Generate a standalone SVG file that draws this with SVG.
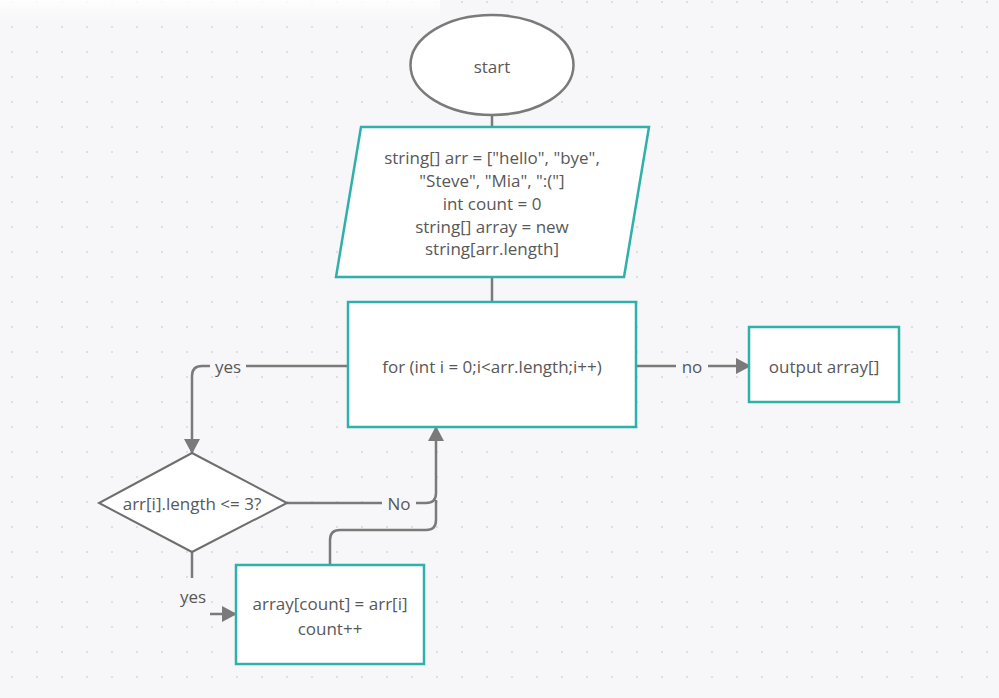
<svg xmlns="http://www.w3.org/2000/svg" width="999" height="698" viewBox="0 0 999 698">
<defs>
<pattern id="dots" x="0" y="0" width="25" height="25" patternUnits="userSpaceOnUse">
<circle cx="12" cy="2" r="1.1" fill="#d9d9de"/>
</pattern>
<linearGradient id="topfade" x1="0" y1="0" x2="0" y2="1">
<stop offset="0" stop-color="#ffffff" stop-opacity="0.9"/>
<stop offset="1" stop-color="#ffffff" stop-opacity="0"/>
</linearGradient>
<marker id="arr" viewBox="0 0 15 16" refX="14" refY="8" markerWidth="15" markerHeight="16" markerUnits="userSpaceOnUse" orient="auto">
<path d="M0,0 L15,8 L0,16 Z" fill="#7a7a7a"/>
</marker>
<style>
.node{fill:#ffffff;stroke:#2fb0ab;stroke-width:2.5}
.term{fill:#ffffff;stroke:#7a7a7a;stroke-width:2.5}
.dia{fill:#ffffff;stroke:#6e6e6e;stroke-width:2}
.conn{fill:none;stroke:#7a7a7a;stroke-width:2.5}
text{font-family:"Open Sans","Noto Sans","DejaVu Sans",sans-serif;font-size:17px;fill:#585858;text-anchor:middle;dominant-baseline:central}
</style>
</defs>
<rect width="999" height="698" fill="#f7f7f9"/>
<rect width="999" height="690" fill="url(#dots)"/>
<rect x="0" y="0" width="440" height="22" fill="url(#topfade)"/>

<g id="connectors">
<line class="conn" x1="492" y1="115" x2="492" y2="127"/>
<line class="conn" x1="492" y1="277" x2="492" y2="302"/>
<path class="conn" d="M636,366 L750,366" marker-end="url(#arr)"/>
<path class="conn" d="M348,366 L202,366 Q192,366 192,376 L192,453" marker-end="url(#arr)"/>
<path class="conn" d="M287,503 L426,503 Q436,503 436,493 L436,427" marker-end="url(#arr)"/>
<path class="conn" d="M330,565 L330,540 Q330,530 340,530 L426,530 Q436,530 436,520 L436,500"/>
<line class="conn" x1="192" y1="552" x2="192" y2="578"/>
<path class="conn" d="M210,614 L236,614" marker-end="url(#arr)"/>
<rect x="210" y="356" width="36" height="20" fill="#f7f7f9"/>
<text x="228" y="366">yes</text>
<rect x="676" y="356" width="32" height="20" fill="#f7f7f9"/>
<text x="692" y="366">no</text>
<rect x="382" y="493" width="34" height="20" fill="#f7f7f9"/>
<text x="399" y="503">No</text>
<text x="193" y="596">yes</text>
</g>

<g id="start">
<ellipse class="term" cx="492" cy="65" rx="81.5" ry="50"/>
<text x="492" y="66">start</text>
</g>

<g id="init">
<polygon class="node" points="361,127 649,127 624,277 336,277"/>
<text x="492" y="157">string[] arr = ["hello", "bye",</text>
<text x="492" y="180">"Steve", "Mia", ":("]</text>
<text x="492" y="203">int count = 0</text>
<text x="492" y="226">string[] array = new</text>
<text x="492" y="248">string[arr.length]</text>
</g>

<g id="loop">
<rect class="node" x="348" y="302" width="288" height="125"/>
<text x="492" y="366">for (int i = 0;i&lt;arr.length;i++)</text>
</g>

<g id="output">
<rect class="node" x="749" y="327" width="150" height="75"/>
<text x="824" y="366">output array[]</text>
</g>

<g id="check">
<polygon class="dia" points="192,453 287,503 192,552 99,503"/>
<text x="192" y="503">arr[i].length &lt;= 3?</text>
</g>

<g id="assign">
<rect class="node" x="236" y="565" width="188" height="99"/>
<text x="330" y="603">array[count] = arr[i]</text>
<text x="330" y="628">count++</text>
</g>
</svg>
